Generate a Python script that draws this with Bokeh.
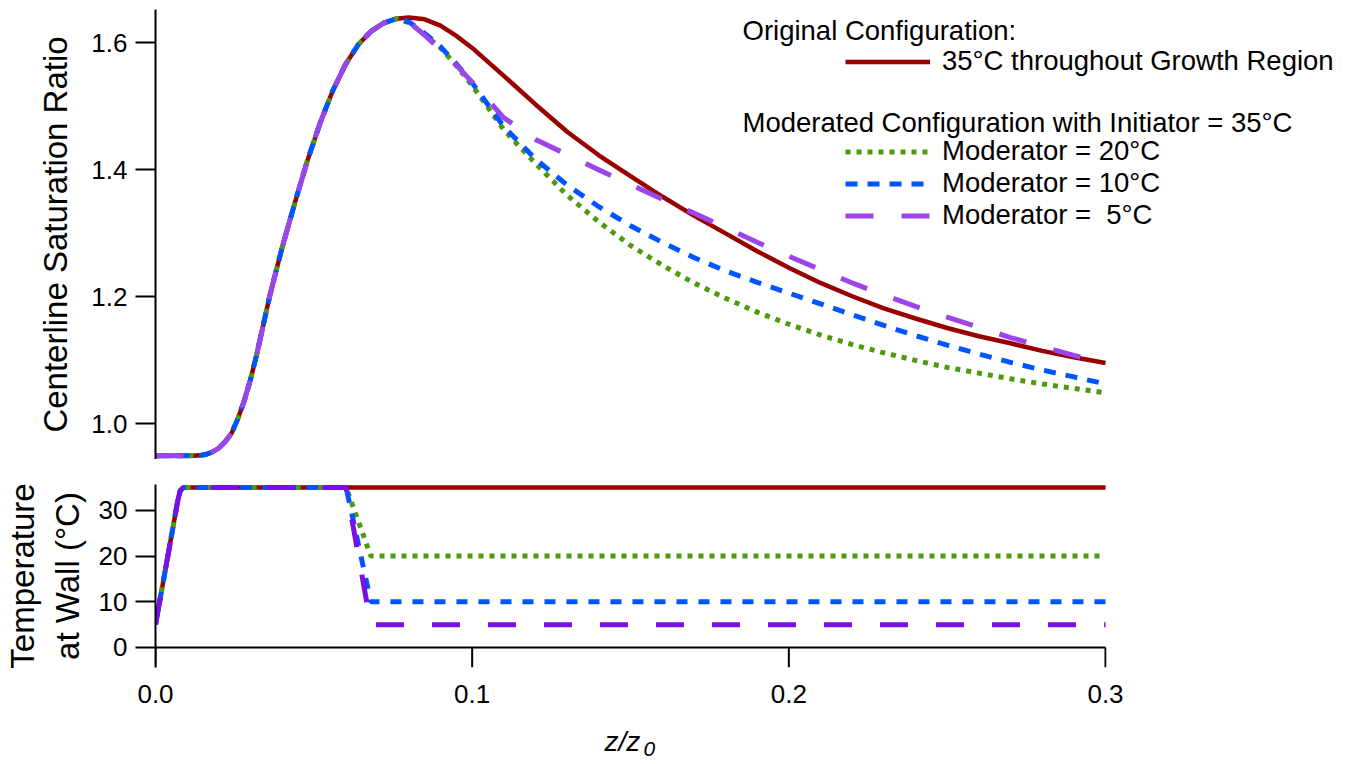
from bokeh.plotting import figure
from bokeh.models import (Range1d, FixedTicker, NumeralTickFormatter, Legend,
                          LegendItem, Label)
from bokeh.embed import file_html
from bokeh.resources import INLINE

# ---------------- data ----------------
z_rise = [0.000, 0.012, 0.014, 0.016, 0.018, 0.020, 0.022, 0.024, 0.026, 0.028,
          0.030, 0.032, 0.034, 0.036, 0.040, 0.044, 0.048, 0.052, 0.056, 0.060,
          0.064, 0.068, 0.072, 0.076]
z_tail = [0.080, 0.085, 0.090, 0.095, 0.100, 0.110, 0.120, 0.130, 0.140, 0.150,
          0.160, 0.170, 0.180, 0.190, 0.200, 0.210, 0.220, 0.230, 0.240, 0.250,
          0.260, 0.270, 0.280, 0.290, 0.300]

sat_rise = [0.950, 0.950, 0.9505, 0.952, 0.956, 0.962, 0.972, 0.985, 1.008, 1.036,
            1.070, 1.110, 1.155, 1.200, 1.278, 1.348, 1.415, 1.474, 1.525, 1.566,
            1.597, 1.618, 1.631, 1.638]

sat_orig_tail = [1.640, 1.637, 1.627, 1.611, 1.592, 1.548, 1.503, 1.460, 1.423, 1.390,
                 1.358, 1.328, 1.300, 1.272, 1.246, 1.222, 1.201, 1.182, 1.166, 1.151,
                 1.138, 1.127, 1.115, 1.105, 1.096]
sat_mod20_tail = [1.632, 1.613, 1.592, 1.564, 1.533, 1.463, 1.410, 1.360, 1.318, 1.281,
                  1.250, 1.222, 1.198, 1.176, 1.157, 1.140, 1.125, 1.112, 1.100, 1.089,
                  1.080, 1.071, 1.063, 1.056, 1.049]
sat_mod10_tail = [1.633, 1.615, 1.594, 1.567, 1.537, 1.468, 1.417, 1.376, 1.342, 1.312,
                  1.286, 1.262, 1.241, 1.223, 1.206, 1.189, 1.172, 1.155, 1.139, 1.124,
                  1.110, 1.097, 1.085, 1.074, 1.063]
sat_mod5_tail = [1.633, 1.612, 1.589, 1.565, 1.538, 1.482, 1.448, 1.424, 1.400, 1.377,
                 1.354, 1.332, 1.309, 1.286, 1.264, 1.243, 1.222, 1.203, 1.185, 1.168,
                 1.152, 1.136, 1.122, 1.108, 1.095]

z_sat = z_rise + z_tail
sat_orig = sat_rise + sat_orig_tail
sat_mod20 = sat_rise + sat_mod20_tail
sat_mod10 = sat_rise + sat_mod10_tail
sat_mod5 = sat_rise + sat_mod5_tail

z_wall_orig = [0.0, 0.0070, 0.0078, 0.0088, 0.300]
t_wall_orig = [5, 32.0, 34.3, 35, 35]
z_wall_mod = [0.0, 0.0070, 0.0078, 0.0088, 0.0602, 0.0680, 0.300]
t_wall_mod20 = [5, 32.0, 34.3, 35, 35, 20, 20]
t_wall_mod10 = [5, 32.0, 34.3, 35, 35, 10, 10]
t_wall_mod5 = [5, 32.0, 34.3, 35, 35, 5, 5]

x_ticks = [0.0, 0.1, 0.2, 0.3]
sat_ticks = [1.0, 1.2, 1.4, 1.6]
temp_ticks = [0, 10, 20, 30]

labels = ["35°C throughout Growth Region", "Moderator = 20°C",
          "Moderator = 10°C", "Moderator =  5°C"]

# ---------------- style ----------------
FONT = "Liberation Sans"
RED = "#990000"
GREEN = "#4d9a0c"
BLUE = "#0055ff"
PURPLE = "#9b45ea"
PURPLE2 = "#7a0fe6"

W = 1350
FRAME_L = 155
X_MAX = 0.3
PX_PER_X = 950 / X_MAX          # bottom frame: 950 px for 0..0.3
T_LO, T_HI = -4.38, 35.66        # bottom panel range (axis drawn at T = 0)


def style_axis(ax):
    ax.axis_line_width = 2
    ax.axis_line_color = "black"
    ax.major_tick_line_width = 2
    ax.major_tick_line_color = "black"
    ax.major_tick_out = 20
    ax.major_tick_in = 0
    ax.minor_tick_out = 0
    ax.minor_tick_in = 0
    ax.major_label_text_font = FONT
    ax.major_label_text_font_size = "26px"
    ax.major_label_text_color = "black"
    ax.major_label_standoff = 8
    ax.axis_label_text_font = FONT
    ax.axis_label_text_font_size = "33px"
    ax.axis_label_text_font_style = "normal"
    ax.axis_label_text_color = "black"
    ax.axis_label_standoff = 14


# ---------------- top panel ----------------
top_frame_w = W - 5 - FRAME_L
p1 = figure(width=W, height=459,
            x_range=Range1d(0, top_frame_w / PX_PER_X),
            y_range=Range1d(0.944, 1.6525),
            output_backend="svg", toolbar_location=None, x_axis_location=None,
            min_border_left=FRAME_L, min_border_right=5, min_border_top=9,
            min_border_bottom=0)
p1.outline_line_color = None
p1.grid.visible = False
style_axis(p1.yaxis[0])
p1.yaxis.ticker = FixedTicker(ticks=sat_ticks)
p1.yaxis.formatter = NumeralTickFormatter(format="0.0")
p1.yaxis.axis_label = "Centerline Saturation Ratio"

r_orig = p1.line(z_sat, sat_orig, line_color=RED, line_width=4.5)
r_m20 = p1.line(z_sat, sat_mod20, line_color=GREEN, line_width=5, line_dash="5 6")
r_m10 = p1.line(z_sat, sat_mod10, line_color=BLUE, line_width=5, line_dash="12 10")
r_m5 = p1.line(z_sat, sat_mod5, line_color=PURPLE, line_width=5, line_dash="28 28")

leg_kw = dict(border_line_color=None, background_fill_alpha=0, padding=0, margin=0,
              spacing=0, glyph_width=85, glyph_height=31, label_height=31,
              label_standoff=12, label_text_font=FONT, label_text_font_size="27.5px",
              label_text_color="black")
leg1 = Legend(items=[LegendItem(label=labels[0], renderers=[r_orig])],
              location=(690, 382), **leg_kw)
leg2 = Legend(items=[LegendItem(label=labels[1], renderers=[r_m20]),
                     LegendItem(label=labels[2], renderers=[r_m10]),
                     LegendItem(label=labels[3], renderers=[r_m5])],
              location=(690, 228), **leg_kw)
p1.add_layout(leg1)
p1.add_layout(leg2)

hdr_kw = dict(x_units="screen", y_units="screen", text_font=FONT,
              text_font_size="27.5px", text_color="black", text_baseline="middle")
p1.add_layout(Label(x=587, y=429, text="Original Configuration:", **hdr_kw))
p1.add_layout(Label(x=587, y=337, text="Moderated Configuration with Initiator = 35°C",
                    **hdr_kw))

# ---------------- bottom panel ----------------
p2 = figure(width=W, height=259, x_range=Range1d(0, 951 / PX_PER_X),
            y_range=Range1d(T_LO, T_HI),
            output_backend="svg", toolbar_location=None,
            min_border_left=FRAME_L, min_border_right=W - FRAME_L - 951,
            min_border_top=25, min_border_bottom=51)
p2.outline_line_color = None
p2.grid.visible = False
style_axis(p2.yaxis[0])
style_axis(p2.xaxis[0])
p2.xaxis.ticker = FixedTicker(ticks=x_ticks)
p2.xaxis.formatter = NumeralTickFormatter(format="0.0")
p2.xaxis.axis_line_color = None
p2.xaxis.major_tick_out = 0
p2.xaxis.major_label_standoff = 17
p2.yaxis.ticker = FixedTicker(ticks=temp_ticks)
p2.yaxis.axis_label = "Temperature\nat Wall (°C)"
p2.yaxis.axis_label_standoff = 10

# x axis drawn at T = 0, ticks hanging down to the bottom of the panel
p2.line([0, X_MAX], [0, 0], line_color="black", line_width=2)
p2.segment(x0=x_ticks, y0=[0] * len(x_ticks), x1=x_ticks, y1=[T_LO] * len(x_ticks),
           line_color="black", line_width=2)

p2.line(z_wall_orig, t_wall_orig, line_color=RED, line_width=4.5)
p2.line(z_wall_mod, t_wall_mod20, line_color=GREEN, line_width=5, line_dash="5 6")
p2.line(z_wall_mod, t_wall_mod10, line_color=BLUE, line_width=5, line_dash="11 11")
p2.line(z_wall_mod, t_wall_mod5, line_color=PURPLE2, line_width=5, line_dash="28 28")

# ---------------- x-axis title strip ----------------
p3 = figure(width=W, height=44, x_range=Range1d(0, 1), y_range=Range1d(0, 1),
            output_backend="svg", toolbar_location=None, x_axis_location=None,
            y_axis_location=None, min_border=0)
p3.outline_line_color = None
p3.grid.visible = False
xl_kw = dict(x_units="screen", y_units="screen", text_font=FONT, text_font_style="italic",
             text_color="black", text_baseline="middle")
p3.add_layout(Label(x=604, y=21, text="z/z", text_font_size="28px", **xl_kw))
p3.add_layout(Label(x=643, y=14, text="0", text_font_size="21px", **xl_kw))

open("out.html", "w").write(file_html([p1, p2, p3], INLINE))
